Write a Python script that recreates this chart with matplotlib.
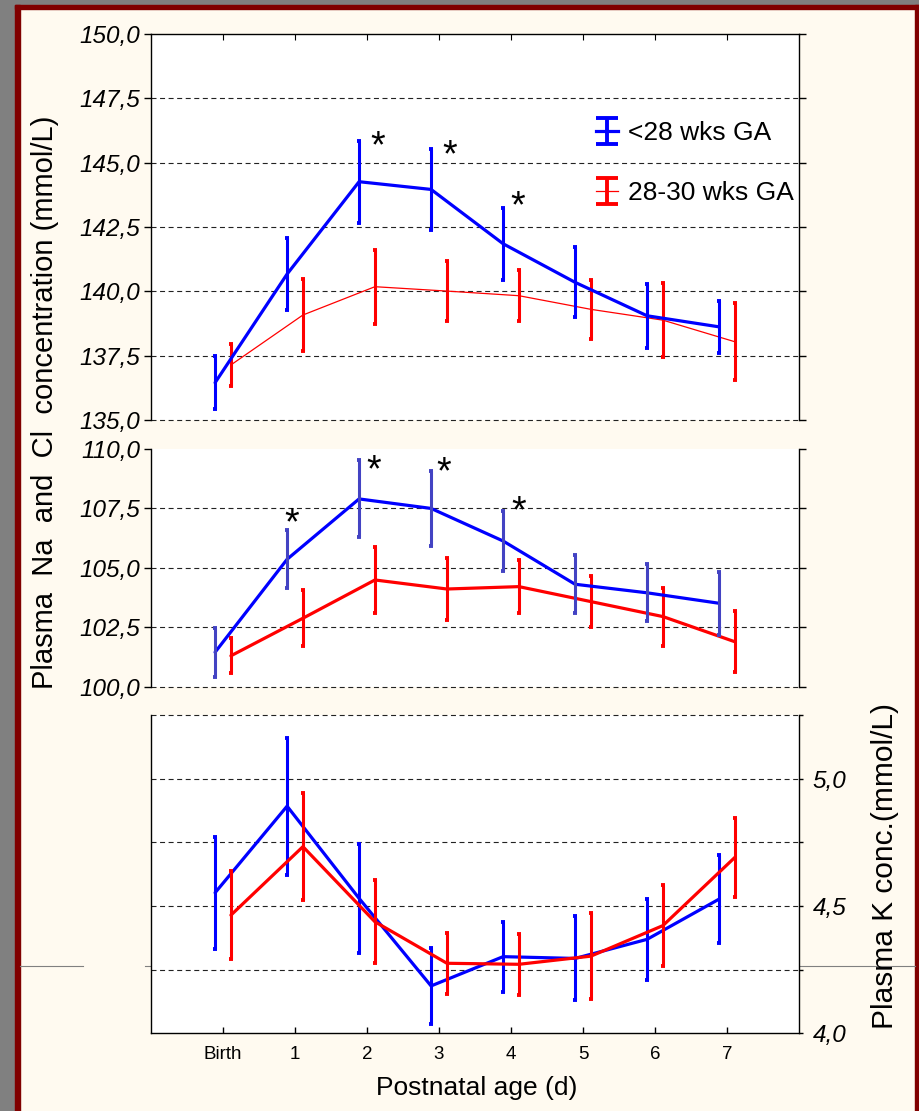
import matplotlib
matplotlib.use("Agg")
import matplotlib.pyplot as plt
from matplotlib.patches import Rectangle
from matplotlib.lines import Line2D
import numpy as np

# ---------------- data ----------------
days = ["Birth", "1", "2", "3", "4", "5", "6", "7"]

na_lt28 = [136.45, 140.67, 144.26, 143.96, 141.85, 140.35, 139.05, 138.62]
na_lt28_err = [1.02, 1.40, 1.59, 1.57, 1.40, 1.36, 1.25, 1.01]
na_28_30 = [137.14, 139.08, 140.18, 140.01, 139.83, 139.30, 138.88, 138.04]
na_28_30_err = [0.81, 1.41, 1.44, 1.17, 0.99, 1.14, 1.43, 1.50]

cl_lt28 = [101.45, 105.36, 107.90, 107.50, 106.13, 104.31, 103.95, 103.51]
cl_lt28_err = [1.03, 1.22, 1.62, 1.58, 1.26, 1.21, 1.20, 1.33]
cl_28_30 = [101.30, 102.88, 104.49, 104.11, 104.21, 103.58, 102.95, 101.89]
cl_28_30_err = [0.74, 1.17, 1.40, 1.32, 1.12, 1.06, 1.22, 1.28]

k_lt28 = [4.552, 4.892, 4.530, 4.186, 4.301, 4.294, 4.369, 4.527]
k_lt28_err = [0.219, 0.269, 0.214, 0.149, 0.138, 0.165, 0.158, 0.172]
k_28_30 = [4.464, 4.733, 4.438, 4.275, 4.271, 4.303, 4.423, 4.691]
k_28_30_err = [0.173, 0.211, 0.163, 0.120, 0.120, 0.168, 0.160, 0.156]

na_sig_days = [2, 3, 4]
cl_sig_days = [1, 2, 3, 4]

na_ticks = [135.0, 137.5, 140.0, 142.5, 145.0, 147.5, 150.0]
cl_ticks = [100.0, 102.5, 105.0, 107.5, 110.0]
k_ticks = [4.0, 4.25, 4.5, 4.75, 5.0, 5.25]
k_label_ticks = [4.0, 4.5, 5.0]

series_labels = ["<28 wks GA", "28-30 wks GA"]

# ---------------- style ----------------
plt.rcParams['font.family'] = ['Liberation Sans', 'DejaVu Sans']
BG = '#FFFAF0'
BLUE = '#0000FF'
BLUE_ERR2 = '#4343C3'
RED = '#FF0000'
W, H = 920, 1111

fig = plt.figure(figsize=(W / 100, H / 100), dpi=100, facecolor=BG)

# frame decorations
fig.patches.append(Rectangle((0, 0), 15 / W, 1, transform=fig.transFigure, color='#808080', zorder=-5))
fig.patches.append(Rectangle((0, 1 - 5 / H), 1, 5 / H, transform=fig.transFigure, color='#808080', zorder=-5))
fig.patches.append(Rectangle((15 / W, 0), 5 / W, 1 - 5 / H, transform=fig.transFigure, color='#800000', zorder=-4))
fig.patches.append(Rectangle((15 / W, 1 - 9 / H), 1, 4 / H, transform=fig.transFigure, color='#800000', zorder=-4))
fig.patches.append(Rectangle((1 - 5 / W, 0), 5 / W, 1 - 5 / H, transform=fig.transFigure, color='#800000', zorder=-4))
for xa, xb_ in [(20, 83), (145, 151), (799, 915)]:
    fig.add_artist(Line2D([xa / W, xb_ / W], [1 - 966 / H] * 2, transform=fig.transFigure,
                          color='#808080', lw=0.8, zorder=-3))


def axes_px(x0, y0, x1, y1):
    return fig.add_axes([x0 / W, 1 - y1 / H, (x1 - x0) / W, (y1 - y0) / H])


ax1 = axes_px(151, 34, 799, 420)
ax2 = axes_px(151, 449, 799, 686.7)
ax3 = axes_px(151, 715, 799, 1033.3)

xs = np.arange(len(days))
off = 0.11
xb = xs - off
xr = xs + off

GRID = dict(color='#222222', lw=0.8, linestyle=(0, (4.5, 3.2)), zorder=1, clip_on=False)
TICKFONT = dict(fontsize=17.5, style='italic')


def series(ax, x, m, e, color, ecolor, lw, z):
    ax.plot(x, m, color=color, lw=lw, zorder=z, solid_joinstyle='round', solid_capstyle='round')
    ax.errorbar(x, m, yerr=e, fmt='none', ecolor=ecolor, elinewidth=2.2,
                capsize=1.1, capthick=2.8, zorder=z + 0.5)


def fmt(v):
    return f"{v:.1f}".replace('.', ',')


for ax in (ax1, ax2, ax3):
    ax.set_facecolor('white')
    ax.set_xlim(-1, 8)
    for s in ax.spines.values():
        s.set_linewidth(1.0)
        s.set_color('black')

# ---- top panel: Na ----
ax1.set_ylim(135, 150)
for v in na_ticks[:-1]:
    ax1.axhline(v, **GRID)
series(ax1, xr, na_28_30, na_28_30_err, RED, RED, 0.9, 3)
series(ax1, xb, na_lt28, na_lt28_err, BLUE, BLUE, 2.3, 4)
ax1.spines['bottom'].set_visible(False)
ax1.set_yticks(na_ticks)
ax1.set_yticklabels([fmt(v) for v in na_ticks], **TICKFONT)
ax1.tick_params(axis='y', which='both', left=True, right=True, direction='out', length=5, pad=2.5, width=1)
ax1.tick_params(axis='y', which='both', right=True, length=3)
ax1.tick_params(axis='y', left=True, length=5)
ax1.set_xticks(xs)
ax1.tick_params(axis='x', bottom=False, top=True, labelbottom=False, direction='in', length=4)

# legend proxies
h1 = ax1.errorbar([np.nan], [np.nan], yerr=[np.nan], color=BLUE, lw=2.3, elinewidth=2.8,
                  capsize=8, capthick=2.8, label=series_labels[0])
h2 = ax1.errorbar([np.nan], [np.nan], yerr=[np.nan], color=RED, lw=0.9, elinewidth=2.8,
                  capsize=8, capthick=2.8, label=series_labels[1])
ax1.legend(handles=[h1, h2], loc='upper left', bbox_to_anchor=((596 - 151) / 648, (420 - 121) / 386),
           frameon=False, fontsize=19, handlelength=0.85, handletextpad=0.35, labelspacing=1.38,
           borderaxespad=0, borderpad=0)

# stars on Na
na_star_off = {2: (19, 3), 3: (19, 2), 4: (15, 10)}
STAR_FS = 27
star_center_px = 0.58 * STAR_FS * 100 / 72
for d in na_sig_days:
    dx, dy = na_star_off[d]
    ax1.annotate('*', xy=(xb[d], na_lt28[d] + na_lt28_err[d]), xytext=(dx, dy - star_center_px + 2),
                 textcoords='offset pixels', ha='center', va='baseline', fontsize=STAR_FS, zorder=6)

# ---- middle panel: Cl ----
ax2.set_ylim(100, 110)
for v in cl_ticks[:-1]:
    ax2.axhline(v, **GRID)
series(ax2, xr, cl_28_30, cl_28_30_err, RED, RED, 2.3, 3)
series(ax2, xb, cl_lt28, cl_lt28_err, BLUE, BLUE_ERR2, 2.3, 4)
for s in ('top', 'bottom'):
    ax2.spines[s].set_visible(False)
ax2.set_yticks(cl_ticks)
ax2.set_yticklabels([fmt(v) for v in cl_ticks], **TICKFONT)
ax2.tick_params(axis='y', left=True, right=True, direction='out', length=5, pad=2.5, width=1)
ax2.tick_params(axis='y', right=True, length=3)
ax2.tick_params(axis='y', left=True, length=5)
ax2.tick_params(axis='x', bottom=False, top=False, labelbottom=False)

cl_star_off = {1: (5, 16), 2: (15, -1), 3: (13, 7), 4: (16, 8)}
for d in cl_sig_days:
    dx, dy = cl_star_off[d]
    ax2.annotate('*', xy=(xb[d], cl_lt28[d] + cl_lt28_err[d]), xytext=(dx, dy - star_center_px + 2),
                 textcoords='offset pixels', ha='center', va='baseline', fontsize=STAR_FS, zorder=6)

# ---- bottom panel: K ----
ax3.set_ylim(4.0, 5.25)
for v in k_ticks[1:]:
    ax3.axhline(v, **GRID)
series(ax3, xb, k_lt28, k_lt28_err, BLUE, BLUE, 2.3, 3)
series(ax3, xr, k_28_30, k_28_30_err, RED, RED, 2.3, 4)
ax3.spines['top'].set_visible(False)
ax3.set_yticks(k_ticks)
ax3.set_yticklabels([fmt(v) if v in k_label_ticks else '' for v in k_ticks], **TICKFONT)
ax3.yaxis.tick_right()
ax3.tick_params(axis='y', left=False, right=True, labelleft=False, labelright=True,
                direction='out', length=3, pad=7, width=1)
ax3.set_xticks(xs)
ax3.set_xticklabels(days, fontsize=13.5)
ax3.tick_params(axis='x', bottom=True, top=False, direction='in', length=4, pad=9, width=1)

# ---- axis titles ----
fig.text(45 / W, 1 - 402 / H, "Plasma  Na  and  Cl  concentration (mmol/L)", rotation=90,
         ha='center', va='center', fontsize=21)
fig.text(885 / W, 1 - 866 / H, "Plasma K conc.(mmol/L)", rotation=90,
         ha='center', va='center', fontsize=21.5)
fig.text(477 / W, 1 - 1088 / H, "Postnatal age (d)", ha='center', va='center', fontsize=19)

fig.savefig("out.png", dpi=100, facecolor=BG)
